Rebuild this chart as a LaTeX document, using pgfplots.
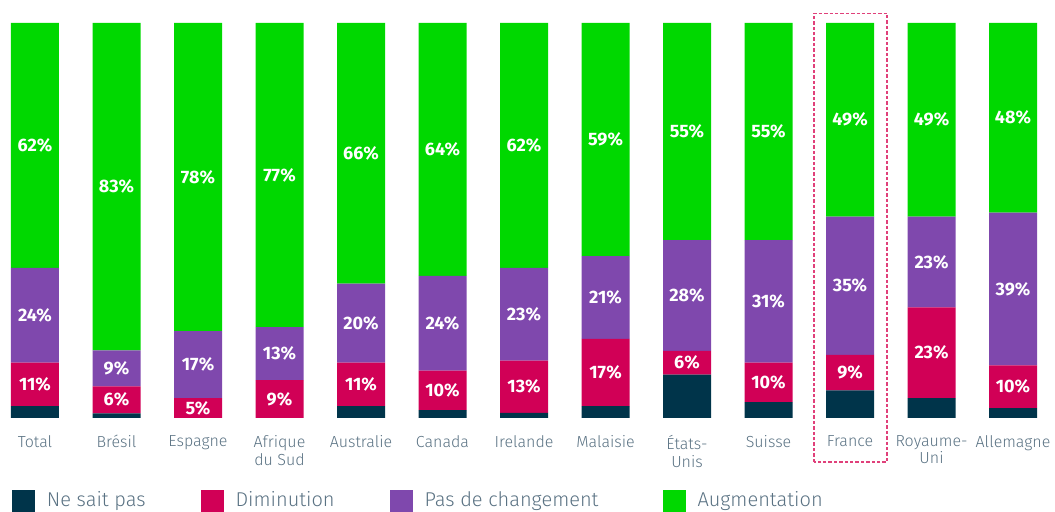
\documentclass[border=0pt]{standalone}
\usepackage{pgfplots}
\pgfplotsset{compat=1.18}
\usepackage{pgfplotstable}
\usepackage{fontspec}
\setmainfont{Fira Sans}
\newfontfamily\lightfont{Fira Sans Light}
\definecolor{cnsp}{HTML}{00344A}
\definecolor{cdim}{HTML}{D10056}
\definecolor{cpdc}{HTML}{7F48AD}
\definecolor{caug}{HTML}{00D800}
\definecolor{labelgray}{HTML}{5A7283}
\definecolor{dashpink}{HTML}{E0407A}
% y values as measured; l* columns = printed labels
\pgfplotstableread{
x nsp dim pdc aug ldim lpdc laug
0 3 11 24 62 11 24 62
1 1.2 6.8 9.1 82.9 6 9 83
2 0 5 17 78 5 17 78
3 0 9.6 13.4 77 9 13 77
4 3 11 20 66 11 20 66
5 2 10 24 64 10 24 64
6 1.3 13.2 23.5 62 13 23 62
7 3 17 21 59 17 21 59
8 11 6 28 55 6 28 55
9 4 10 31 55 10 31 55
10 7 9 35 49 9 35 49
11 5 23 23 49 23 23 49
12 2.5 10.8 38.7 48 10 39 48
}\data
\pgfplotsset{centerlabels/.style={
  point meta=explicit symbolic,
  nodes near coords={\pgfplotspointmeta\%}}}
\begin{document}
\begin{tikzpicture}
\begin{axis}[
  scale only axis, width=527.5pt, height=197.5pt,
  xmin=-0.4294, xmax=12.515, ymin=0, ymax=100,
  ybar stacked, bar width=24pt,
  clip=false,
  axis line style={draw=none}, tick style={draw=none},
  major tick length=0pt,
  ytick=\empty,
  xtick={0,1,2,3,4,5,6,7,8,9,10,11,12},
  xticklabels={Total,Brésil,Espagne,{Afrique\\du Sud},Australie,Canada,Irelande,Malaisie,{États-\\Unis},Suisse,France,{Royaume-\\Uni},Allemagne},
  xticklabel style={align=center, font=\lightfont\fontsize{8}{8.8}\selectfont, text=labelgray, inner sep=0pt, anchor=north, yshift=-8.5pt},
  legend columns=4,
  legend style={at={(rel axis cs:0.01137,-0.182)}, anchor=north west, draw=none, fill=none,
    inner sep=0pt, outer sep=0pt,
    font=\lightfont\fontsize{10}{12}\selectfont, text=labelgray,
    nodes={inner sep=0pt, text height=7.5pt, text depth=2.5pt},
    /tikz/every odd column/.append style={column sep=6pt},
    /tikz/every even column/.append style={column sep=27.5pt}},
  legend cell align=left,
  legend image code/.code={\fill[#1] (0pt,-5.75pt) rectangle (11.5pt,5.75pt);},
  every node near coord/.append style={font=\bfseries\fontsize{9}{10}\selectfont, text=white, anchor=center},
]
\addplot[fill=cnsp, draw=none] table[x=x, y=nsp] {\data};
\addlegendentry{Ne sait pas}
\addplot[fill=cdim, draw=none, centerlabels] table[x=x, y=dim, meta=ldim] {\data};
\addlegendentry{Diminution}
\addplot[fill=cpdc, draw=none, centerlabels] table[x=x, y=pdc, meta=lpdc] {\data};
\addlegendentry{Pas de changement\kern4.5pt}
\addplot[fill=caug, draw=none, centerlabels] table[x=x, y=aug, meta=laug] {\data};
\addlegendentry{Augmentation}
\draw[dashpink, line width=0.6pt, dash pattern=on 1.7pt off 1pt] (axis cs:9.558,-11.14) rectangle (axis cs:10.454,102.5);
\end{axis}
\pgfresetboundingbox
\useasboundingbox (0pt,-47pt) rectangle (527.5pt,209pt);
\end{tikzpicture}
\end{document}
